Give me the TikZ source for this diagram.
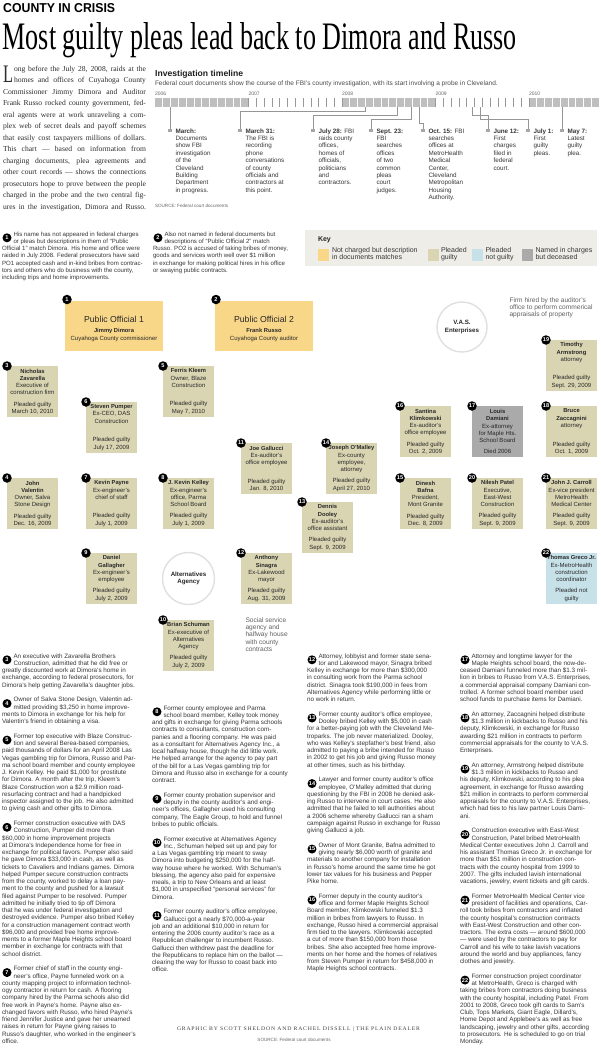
\documentclass[tikz,border=0pt]{standalone}
\usepackage{fontspec}
\setmainfont{Liberation Sans}
\setsansfont{Liberation Sans}
\newfontfamily\seriff{Liberation Serif}
\newfontfamily\credf[LetterSpace=14]{Liberation Serif}
\usetikzlibrary{calc}
\pgfdeclarelayer{bg}
\pgfsetlayers{bg,main}
\definecolor{poY}{RGB}{249,215,137}
\definecolor{pgB}{RGB}{217,213,178}
\definecolor{pngB}{RGB}{199,225,232}
\definecolor{decG}{RGB}{170,170,170}
\definecolor{keyBg}{RGB}{238,237,231}
\definecolor{txtC}{RGB}{40,40,40}
\definecolor{bodyC}{RGB}{55,55,55}
\definecolor{connC}{RGB}{115,115,115}
\definecolor{tlC}{RGB}{150,150,150}
\newcommand\pfont{\fontsize{6}{7.3}\selectfont}
\newcommand\nfont{\fontsize{5.8}{7.3}\selectfont\bfseries}
\newcommand\bfont{\fontsize{6.3}{7.25}\selectfont}
\newcommand\notefont{\fontsize{6.1}{7.3}\selectfont}
\newcommand\tfont{\fontsize{6.3}{7.4}\selectfont}
\newcommand\ind{\hspace*{11.5pt}}
\tikzset{
  pbox/.style={rectangle, minimum width=51pt, minimum height=51pt, inner sep=0pt, outer sep=0pt, text=txtC},
  numc/.style={circle, fill=black, text=white, inner sep=0pt, outer sep=0pt, minimum size=9.5pt, font=\fontsize{5.6}{6}\selectfont\bfseries},
  conline/.style={draw=connC, line width=0.6pt},
  agency/.style={circle, minimum size=52pt, inner sep=0pt, outer sep=0pt, fill=white, draw=black!12, line width=1.4pt, align=center, text=txtC, font=\fontsize{6.2}{7.4}\selectfont\bfseries},
  txtnode/.style={inner sep=0pt, outer sep=0pt, text=bodyC},
  tlsq/.style={rectangle, fill=black!35, minimum size=3.5pt, inner sep=0pt, outer sep=0pt},
  tlline/.style={draw=tlC, line width=0.5pt},
  annline/.style={draw=black!18, line width=0.9pt},
  anndash/.style={draw=black!35, line width=0.5pt, dash pattern=on 1pt off 1pt},
  swatch/.style={rectangle, minimum width=11pt, minimum height=12pt, inner sep=0pt},
  pobox/.style={rectangle, fill=poY, minimum width=98pt, minimum height=50pt, inner sep=0pt, outer sep=0pt},
}
\newcommand\person[7]{%
  \node[pbox, fill=#4] (#1) at ({#2+25.5},{#3+25.5}) {\parbox[c][44.5pt][s]{50pt}{\centering\pfont #6\par\vfill #7\par}};
  \node[numc] (#1num) at (#1.north west) {#5};
}
\newcommand\para[5]{%
  \node[txtnode, anchor=base west] (#1) at (#2,#3) {\parbox[t]{170pt}{\raggedright\bfont #5}};
  \node[numc, minimum size=9pt] (#1num) at ({#2+5},{#3+1.8}) {#4};
}
\newcommand\note[5]{%
  \node[txtnode, anchor=base west] (#1) at (#2,#3) {\parbox[t]{170pt}{\raggedright\notefont #5}};
  \node[numc, minimum size=9pt] (#1num) at ({#2+5},{#3+1.8}) {#4};
}
\begin{document}
\begin{tikzpicture}[x=1pt,y=-1pt]
\useasboundingbox (0,0) rectangle (600,1054);
\fill[white] (0,0) rectangle (600,1054);

% ---------- header
\node[anchor=base west, inner sep=0pt] (kicker) at (3,12.5) {\resizebox{112pt}{9pt}{\bfseries COUNTY IN CRISIS}};
\node[anchor=base west, inner sep=0pt] (title) at (2.5,50) {\resizebox{514pt}{27pt}{\seriff Most guilty pleas lead back to Dimora and Russo}};

% ---------- intro
\node[anchor=base west, inner sep=0pt, text=black!82] (dropL) at (3,83) {\resizebox{10pt}{16.5pt}{\seriff L}};
\node[txtnode, anchor=base west, text=black!82] (introA) at (14,71.5) {\parbox[t]{132pt}{\seriff\fontsize{7.6}{11.5}\selectfont
\makebox[132pt][s]{ong before the July 28, 2008, raids at the}\\
\makebox[132pt][s]{homes and offices of Cuyahoga County}}};
\node[txtnode, anchor=base west, text=black!82] (introB) at (3,94.5) {\parbox[t]{143pt}{\seriff\fontsize{7.6}{11.5}\selectfont
\makebox[143pt][s]{Commissioner Jimmy Dimora and Auditor}\\
\makebox[143pt][s]{Frank Russo rocked county government, fed-}\\
\makebox[143pt][s]{eral agents were at work unraveling a com-}\\
\makebox[143pt][s]{plex web of secret deals and payoff schemes}\\
\makebox[143pt][s]{that easily cost taxpayers millions of dollars.}\\
\makebox[143pt][s]{This chart — based on information from}\\
\makebox[143pt][s]{charging documents, plea agreements and}\\
\makebox[143pt][s]{other court records — shows the connections}\\
\makebox[143pt][s]{prosecutors hope to prove between the people}\\
\makebox[143pt][s]{charged in the probe and the two central fig-}\\
\makebox[143pt][s]{ures in the investigation, Dimora and Russo.}}};

% ---------- timeline
\node[anchor=base west, inner sep=0pt, text=black!88] (tlhead) at (155,76.5) {\fontsize{8.6}{9}\selectfont\bfseries Investigation timeline};
\node[txtnode, anchor=base west, text=black!70] (tlsub) at (155,85.5) {\fontsize{6.5}{6.5}\selectfont Federal court documents show the course of the FBI’s county investigation, with its start involving a probe in Cleveland.};
\node[txtnode, anchor=base west, text=black!60] (y06) at (155,95.5) {\fontsize{5}{5}\selectfont 2006};
\node[txtnode, anchor=base west, text=black!60] (y07) at (248.5,95.5) {\fontsize{5}{5}\selectfont 2007};
\node[txtnode, anchor=base west, text=black!60] (y08) at (342,95.5) {\fontsize{5}{5}\selectfont 2008};
\node[txtnode, anchor=base west, text=black!60] (y09) at (435.5,95.5) {\fontsize{5}{5}\selectfont 2009};
\node[txtnode, anchor=base west, text=black!60] (y10) at (529,95.5) {\fontsize{5}{5}\selectfont 2010};
\fill[black!25] (155,98.5) rectangle (248.5,107);
\fill[black!25] (342,98.5) rectangle (435.5,107);
\fill[black!25] (529,98.5) rectangle (599,107);
\foreach \k in {1,...,11} \draw[white, line width=0.7pt] ({155+7.79*\k},98.5) -- ({155+7.79*\k},107);
\foreach \k in {25,...,35} \draw[white, line width=0.7pt] ({155+7.79*\k},98.5) -- ({155+7.79*\k},107);
\foreach \k in {49,...,56} \draw[white, line width=0.7pt] ({155+7.79*\k},98.5) -- ({155+7.79*\k},107);
\foreach \k in {12,...,24} \draw[black!40, line width=0.5pt] ({155+7.79*\k},98.5) -- ({155+7.79*\k},107);
\foreach \k in {36,...,48} \draw[black!40, line width=0.5pt] ({155+7.79*\k},98.5) -- ({155+7.79*\k},107);

\coordinate (tb1) at (170,107);
\coordinate (tb2) at (365,107);
\coordinate (tb3) at (397,107);
\coordinate (tb4) at (411,107);
\coordinate (tb5) at (419,107);
\coordinate (tb6) at (472,107);
\coordinate (tb7) at (480,107);
\coordinate (tb8) at (562,107);
\node[tlsq] (sq1) at (170,130.5) {};
\node[tlsq] (sq2) at (240,130.5) {};
\node[tlsq] (sq3) at (313,130.5) {};
\node[tlsq] (sq4) at (371,130.5) {};
\node[tlsq] (sq5) at (423,130.5) {};
\node[tlsq] (sq6) at (488,130.5) {};
\node[tlsq] (sq7) at (528,130.5) {};
\node[tlsq] (sq8) at (562,130.5) {};
\draw[tlline] (tb1) -- (sq1.north);
\draw[tlline] (tb2) |- ([yshift=17.25pt]sq2.north) -- (sq2.north);
\draw[tlline] (tb3) |- ([yshift=13.75pt]sq3.north) -- (sq3.north);
\draw[tlline] (tb4) |- ([yshift=9.25pt]sq4.north) -- (sq4.north);
\draw[tlline] (tb5) |- ([yshift=5.75pt]sq5.north) -- (sq5.north);
\draw[tlline] (tb6) |- ([yshift=13.75pt]sq6.north) -- (sq6.north);
\draw[tlline] (tb7) |- ([yshift=9.25pt]sq7.north) -- (sq7.north);
\draw[tlline] (tb8) -- (sq8.north);

\node[txtnode, anchor=base west, text=black!78] (ev1) at (175.5,133) {\parbox[t]{60pt}{\raggedright\tfont\textbf{March:}\\Documents\\show FBI\\investigation\\of the\\Cleveland\\Building\\Department\\in progress.}};
\node[txtnode, anchor=base west, text=black!78] (ev2) at (245.5,133) {\parbox[t]{60pt}{\raggedright\tfont\textbf{March 31:}\\The FBI is\\recording\\phone\\conversations\\of county\\officials and\\contractors at\\this point.}};
\node[txtnode, anchor=base west, text=black!78] (ev3) at (318.5,133) {\parbox[t]{60pt}{\raggedright\tfont\textbf{July 28:} FBI\\raids county\\offices,\\homes of\\officials,\\politicians\\and\\contractors.}};
\node[txtnode, anchor=base west, text=black!78] (ev4) at (376.5,133) {\parbox[t]{60pt}{\raggedright\tfont\textbf{Sept. 23:}\\FBI\\searches\\offices\\of two\\common\\pleas\\court\\judges.}};
\node[txtnode, anchor=base west, text=black!78] (ev5) at (428.5,133) {\parbox[t]{60pt}{\raggedright\tfont\textbf{Oct. 15:} FBI\\searches\\offices at\\MetroHealth\\Medical\\Center,\\Cleveland\\Metropolitan\\Housing\\Authority.}};
\node[txtnode, anchor=base west, text=black!78] (ev6) at (493.5,133) {\parbox[t]{60pt}{\raggedright\tfont\textbf{June 12:}\\First\\charges\\filed in\\federal\\court.}};
\node[txtnode, anchor=base west, text=black!78] (ev7) at (533.5,133) {\parbox[t]{60pt}{\raggedright\tfont\textbf{July 1:}\\First\\guilty\\pleas.}};
\node[txtnode, anchor=base west, text=black!78] (ev8) at (567.5,133) {\parbox[t]{60pt}{\raggedright\tfont\textbf{May 7:}\\Latest\\guilty\\plea.}};
\node[txtnode, anchor=base west, text=black!60] (tlsrc) at (155,207.5) {\fontsize{4.6}{5}\selectfont SOURCE: Federal court documents};

% ---------- notes 1 and 2
\note{note1}{2}{236}{1}{\ind His name has not appeared in federal charges\\\ind or pleas but descriptions in them of “Public\\Official 1” match Dimora. His home and office were\\raided in July 2008. Federal prosecutors have said\\PO1 accepted cash and in-kind bribes from contrac-\\tors and others who do business with the county,\\including trips and home improvements.}
\note{note2}{153}{236}{2}{\ind Also not named in federal documents but\\\ind descriptions of “Public Official 2” match\\Russo. PO2 is accused of taking bribes of money,\\goods and services worth well over \$1 million\\in exchange for making political hires in his office\\or swaying public contracts.}

% ---------- key
\node[rectangle, fill=keyBg, minimum width=292pt, minimum height=36pt, inner sep=0pt] (key) at (451,248) {};
\node[txtnode, anchor=base west, text=black!85] (keyt) at (318,241) {\fontsize{7}{8}\selectfont\bfseries Key};
\node[swatch, fill=poY] (sw1) at (323.5,254.5) {};
\node[txtnode, anchor=base west] (sw1t) at (332,252.5) {\parbox[t]{100pt}{\raggedright\fontsize{7}{7.2}\selectfont Not charged but description\\in documents matches}};
\node[swatch, fill=pgB] (sw2) at (433,254.5) {};
\node[txtnode, anchor=base west] (sw2t) at (441,252.5) {\parbox[t]{40pt}{\raggedright\fontsize{7}{7.2}\selectfont Pleaded\\guilty}};
\node[swatch, fill=pngB] (sw3) at (477.5,254.5) {};
\node[txtnode, anchor=base west] (sw3t) at (485.5,252.5) {\parbox[t]{40pt}{\raggedright\fontsize{7}{7.2}\selectfont Pleaded\\not guilty}};
\node[swatch, fill=decG] (sw4) at (527.5,254.5) {};
\node[txtnode, anchor=base west] (sw4t) at (535.5,252.5) {\parbox[t]{70pt}{\raggedright\fontsize{7}{7.2}\selectfont Named in charges\\but deceased}};

% ---------- network: main nodes
\node[pobox] (po1) at (114,326) {};
\node[txtnode, anchor=base, text=txtC] (po1a) at (114,322) {\fontsize{8.7}{9}\selectfont Public Official 1};
\node[txtnode, anchor=base, text=txtC] (po1b) at (114,332) {\nfont Jimmy Dimora};
\node[txtnode, anchor=base, text=txtC] (po1c) at (114,340) {\pfont Cuyahoga County commissioner};
\node[numc] (po1num) at ([xshift=2pt,yshift=1.5pt]po1.north west) {1};
\node[pobox] (po2) at (264,326) {};
\node[txtnode, anchor=base, text=txtC] (po2a) at (264,322) {\fontsize{8.7}{9}\selectfont Public Official 2};
\node[txtnode, anchor=base, text=txtC] (po2b) at (264,332) {\nfont Frank Russo};
\node[txtnode, anchor=base, text=txtC] (po2c) at (264,340) {\pfont Cuyahoga County auditor};
\node[numc] (po2num) at ([xshift=1pt,yshift=1.5pt]po2.north west) {2};

\node[agency, minimum size=50pt] (vas) at (462,327) {V.A.S.\\Enterprises};
\node[agency] (alt) at (188.5,578.5) {Alternatives\\Agency};

\person{n3}{7}{366}{pgB}{3}{{\nfont Nicholas\\Zavarella}\\Executive of\\construction firm}{Pleaded guilty\\March 10, 2010}
\person{n4}{7}{478}{pgB}{4}{{\nfont John\\Valentin}\\Owner, Salva\\Stone Design}{Pleaded guilty\\Dec. 16, 2009}
\person{n5}{163}{366}{pgB}{5}{{\nfont Ferris Kleem}\\Owner, Blaze\\Construction}{Pleaded guilty\\May 7, 2010}
\person{n6}{86}{402}{pgB}{6}{{\nfont Steven Pumper}\\Ex-CEO, DAS\\Construction}{Pleaded guilty\\July 17, 2009}
\person{n7}{86}{478}{pgB}{7}{{\nfont Kevin Payne}\\Ex-engineer’s\\chief of staff}{Pleaded guilty\\July 1, 2009}
\person{n8}{163}{478}{pgB}{8}{{\nfont J. Kevin Kelley}\\Ex-engineer’s\\office, Parma\\School Board}{Pleaded guilty\\July 1, 2009}
\person{n9}{86}{553}{pgB}{9}{{\nfont Daniel\\Gallagher}\\Ex-engineer’s\\employee}{Pleaded guilty\\July 2, 2009}
\person{n10}{163}{620}{pgB}{10}{{\nfont Brian Schuman}\\Ex-executive of\\Alternatives\\Agency}{Pleaded guilty\\July 2, 2009}
\person{n11}{241}{443}{pgB}{11}{{\nfont Joe Gallucci}\\Ex-auditor’s\\office employee}{Pleaded guilty\\Jan. 8, 2010}
\person{n12}{241}{553}{pgB}{12}{{\nfont Anthony\\Sinagra}\\Ex-Lakewood\\mayor}{Pleaded guilty\\Aug. 31, 2009}
\person{n13}{302}{502}{pgB}{13}{{\nfont Dennis\\Dooley}\\Ex-auditor’s\\office assistant}{Pleaded guilty\\Sept. 9, 2009}
\person{n14}{326}{443}{pgB}{14}{{\nfont Joseph O’Malley}\\Ex-county\\employee,\\attorney}{Pleaded guilty\\April 27, 2010}
\person{n15}{400}{478}{pgB}{15}{{\nfont Dinesh\\Bafna}\\President,\\Mont Granite}{Pleaded guilty\\Dec. 8, 2009}
\person{n16}{400}{406}{pgB}{16}{{\nfont Santina\\Klimkowski}\\Ex-auditor’s\\office employee}{Pleaded guilty\\Oct. 2, 2009}
\person{n17}{472}{406}{decG}{17}{{\nfont Louis\\Damiani}\\Ex-attorney\\for Maple Hts.\\School Board}{Died 2006}
\person{n18}{546}{406}{pgB}{18}{{\nfont Bruce\\Zaccagnini}\\attorney}{Pleaded guilty\\Oct. 1, 2009}
\person{n19}{546}{340}{pgB}{19}{{\nfont Timothy\\Armstrong}\\attorney}{Pleaded guilty\\Sept. 29, 2009}
\person{n20}{472}{478}{pgB}{20}{{\nfont Nilesh Patel}\\Executive,\\East-West\\Construction}{Pleaded guilty\\Sept. 9, 2009}
\person{n21}{546}{478}{pgB}{21}{{\nfont John J. Carroll}\\Ex-vice president\\MetroHealth\\Medical Center}{Pleaded guilty\\Sept. 9, 2009}
\person{n22}{546}{553}{pngB}{22}{{\nfont Thomas Greco Jr.}\\Ex-MetroHealth\\construction\\coordinator}{Pleaded not\\guilty}

% annotations
\node[txtnode, anchor=base west, text=black!62] (firmnote) at (509.5,302) {\parbox[t]{100pt}{\raggedright\fontsize{6.6}{7.4}\selectfont Firm hired by the auditor’s\\office to perform commerical\\appraisals of property}};
\node[txtnode, anchor=base west, text=black!62] (socnote) at (245.5,622) {\parbox[t]{60pt}{\raggedright\fontsize{6.6}{7.4}\selectfont Social service\\agency and\\halfway house\\with county\\contracts}};
\coordinate (fdt) at (505.5,295);
\coordinate (fdb) at (505.5,320);
\coordinate (firmd) at (505.5,309);
\coordinate (sdt) at (242,614);
\coordinate (sdb) at (242,656);
\coordinate (socd) at (242,617);

\begin{pgfonlayer}{bg}
\draw[anndash] (fdt) -- (fdb);
\draw[anndash] (sdt) -- (sdb);
\draw[annline] (vas.25) -- (firmd);
\draw[annline] (alt.-40) -- (socd);
% PO1
\draw[conline] ([xshift=-35pt]po1.south) -- ([yshift=-3pt]n3.north east);
\draw[conline] ([xshift=-16pt]po1.south) -- ([xshift=9.5pt]n4.north);
\draw[conline] (n6.north |- po1.south) -- (n6.north);
\draw[conline] ([xshift=6pt]po1.south) -- ([xshift=-13.5pt]n8.north);
\draw[conline] ([xshift=31pt]po1.south) -- (n5.north west);
% PO2
\draw[conline] ([xshift=-27pt]po2.south) -- ([yshift=-4pt]n5.north east);
\draw[conline] ([xshift=-11pt]po2.south) -- ([xshift=11.5pt]n8.north);
\draw[conline] (n11.north |- po2.south) -- (n11.north);
\draw[conline] ([xshift=14pt]po2.south) -- ([xshift=-10.5pt]n13.north);
\draw[conline] ([xshift=25pt]po2.south) -- (n14.north west);
\draw[conline] ([yshift=-1pt]po2.east) -- (vas.west);
\draw[conline] ([yshift=-8pt]po2.east) -- (n16.north west);
\draw[conline] ([yshift=-14pt]po2.east) -- (n15.north west);
% others
\draw[conline] (n5.south) -- (n8.north);
\draw[conline] (n6.south east) -- (n8.north west);
\draw[conline] (n6.east) -- (150.8,427.5) .. controls (150.8,424.5) and (155.4,424.5) .. (155.4,427.5)
  -- (186.2,427.5) .. controls (186.2,424.5) and (190.8,424.5) .. (190.8,427.5)
  -- (218.8,427.5) .. controls (218.8,424.5) and (223.4,424.5) .. (223.4,427.5)
  -- (264.2,427.5) .. controls (264.2,424.5) and (268.8,424.5) .. (268.8,427.5)
  -- (295.5,427.5) .. controls (295.5,424.5) and (300.1,424.5) .. (300.1,427.5)
  -- (317.5,427.5) .. controls (317.5,424.5) and (322.1,424.5) .. (322.1,427.5)
  -- (365.9,427.5) .. controls (365.9,424.5) and (370.5,424.5) .. (370.5,427.5)
  -- (n16.west |- n6.east);
\draw[conline] (n7.east) -- (n8.west);
\draw[conline] (n7.south) -- (n9.north);
\draw[conline] (n7.south east) -- (alt.135);
\draw[conline] (n8.south) -- (alt.north);
\draw[conline] (n8.south west) -- (151.57,539.54) .. controls (149.53,537.34) and (146.15,540.46) .. (148.19,542.66) -- (n9.north east);
\draw[conline] ([yshift=11.5pt]n8.east) -- ([yshift=-13.5pt]n11.west);
\draw[conline] ([yshift=-3.5pt]n8.east) -- ([yshift=2.5pt]n13.west);
\draw[conline] (n8.south east) -- (n12.north west);
\draw[conline] (n9.east) -- (alt.west);
\draw[conline] (alt.east) -- (n12.west);
\draw[conline] (alt.south) -- (n10.north);
\draw[conline] (n9.south east) -- (n10.north west);
\draw[conline] (n12.south west) -- (n10.north east);
\draw[conline] (n11.east) -- (306,468.5) .. controls (306,465.5) and (310.6,465.5) .. (310.6,468.5) -- (n14.west);
\draw[conline] (vas.250) -- ([xshift=11pt]n16.north);
\draw[conline] (vas.288) -- ([xshift=-9pt]n17.north);
\draw[conline] (vas.317) -- (n18.north west);
\draw[conline] (vas.340) -- ([yshift=12.5pt]n19.west);
\draw[conline] (n19.south) -- (n18.north);
\draw[conline] (n16.east) -- (n17.west);
\draw[conline] (n17.east) -- (n18.west);
\draw[conline] (n20.east) -- (n21.west);
\draw[conline] (n20.south east) -- (n22.north west);
\draw[conline] (n21.south) -- (n22.north);
\end{pgfonlayer}

% ---------- bottom text, column 1
\para{p3}{2}{658}{3}{\ind An executive with Zavarella Brothers\\\ind Construction, admitted that he did free or\\greatly discounted work at Dimora’s home in\\exchange, according to federal prosecutors, for\\Dimora’s help getting Zavarella’s daughter jobs.}
\para{p4}{2}{701.75}{4}{\ind Owner of Salva Stone Design, Valentin ad-\\\ind mitted providing \$3,250 in home improve-\\ments to Dimora in exchange for his help for\\Valentin’s friend in obtaining a visa.}
\para{p5}{2}{738.25}{5}{\ind Former top executive with Blaze Construc-\\\ind tion and several Berea-based companies,\\paid thousands of dollars for an April 2008 Las\\Vegas gambling trip for Dimora, Russo and Par-\\ma school board member and county employee\\J. Kevin Kelley. He paid \$1,000 for prostitute\\for Dimora. A month after the trip, Kleem’s\\Blaze Construction won a \$2.9 million road-\\resurfacing contract and had a handpicked\\inspector assigned to the job. He also admitted\\to giving cash and other gifts to Dimora.}
\para{p6}{2}{825.5}{6}{\ind Former construction executive with DAS\\\ind Construction, Pumper did more than\\\$60,000 in home improvement projects\\at Dimora’s Independence home for free in\\exchange for political favors. Pumper also said\\he gave Dimora \$33,000 in cash, as well as\\tickets to Cavaliers and Indians games. Dimora\\helped Pumper secure construction contracts\\from the county, worked to delay a loan pay-\\ment to the county and pushed for a lawsuit\\filed against Pumper to be resolved. Pumper\\admitted he initially tried to tip off Dimora\\that he was under federal investigation and\\destroyed evidence. Pumper also bribed Kelley\\for a construction management contract worth\\\$96,000 and provided free home improve-\\ments to a former Maple Heights school board\\member in exchange for contracts with that\\school district.}
\para{p7}{2}{970.75}{7}{\ind Former chief of staff in the county engi-\\\ind neer’s office, Payne funneled work on a\\county mapping project to information technol-\\ogy contractor in return for cash. A flooring\\company hired by the Parma schools also did\\free work in Payne’s home. Payne also ex-\\changed favors with Russo, who hired Payne’s\\friend Jennifer Justice and gave her unearned\\raises in return for Payne giving raises to\\Russo’s daughter, who worked in the engineer’s\\office.}

% column 2
\para{p8}{152}{710}{8}{\ind Former county employee and Parma\\\ind school board member, Kelley took money\\and gifts in exchange for giving Parma schools\\contracts to consultants, construction com-\\panies and a flooring company. He was paid\\as a consultant for Alternatives Agency Inc., a\\local halfway house, though he did little work.\\He helped arrange for the agency to pay part\\of the bill for a Las Vegas gambling trip for\\Dimora and Russo also in exchange for a county\\contract.}
\para{p9}{152}{797.25}{9}{\ind Former county probation supervisor and\\\ind deputy in the county auditor’s and engi-\\neer’s offices, Gallagher used his consulting\\company, The Eagle Group, to hold and funnel\\bribes to public officials.}
\para{p10}{152}{841}{10}{\ind Former executive at Alternatives Agency\\\ind Inc., Schuman helped set up and pay for\\a Las Vegas gambling trip meant to sway\\Dimora into budgeting \$250,000 for the half-\\way house where he worked. With Schuman’s\\blessing, the agency also paid for expensive\\meals, a trip to New Orleans and at least\\\$1,000 in unspecified “personal services” for\\Dimora.}
\para{p11}{152}{913.75}{11}{\ind Former county auditor’s office employee,\\\ind Gallucci got a nearly \$70,000-a-year\\job and an additional \$10,000 in return for\\entering the 2006 county auditor’s race as a\\Republican challenger to incumbent Russo.\\Gallucci then withdrew past the deadline for\\the Republicans to replace him on the ballot —\\clearing the way for Russo to coast back into\\office.}

% column 3
\para{p12}{307}{658}{12}{\ind Attorney, lobbyist and former state sena-\\\ind tor and Lakewood mayor, Sinagra bribed\\Kelley in exchange for more than \$300,000\\in consulting work from the Parma school\\district. Sinagra took \$190,000 in fees from\\Alternatives Agency while performing little or\\no work in return.}
\para{p13}{307}{716.25}{13}{\ind Former county auditor’s office employee,\\\ind Dooley bribed Kelley with \$5,000 in cash\\for a better-paying job with the Cleveland Me-\\troparks. The job never materialized. Dooley,\\who was Kelley’s stepfather’s best friend, also\\admitted to paying a bribe intended for Russo\\in 2002 to get his job and giving Russo money\\at other times, such as his birthday.}
\para{p14}{307}{781.75}{14}{\ind Lawyer and former county auditor’s office\\\ind employee, O’Malley admitted that during\\questioning by the FBI in 2008 he denied ask-\\ing Russo to intervene in court cases. He also\\admitted that he failed to tell authorities about\\a 2006 scheme whereby Gallucci ran a sham\\campaign against Russo in exchange for Russo\\giving Gallucci a job.}
\para{p15}{307}{847.25}{15}{\ind Owner of Mont Granite, Bafna admitted to\\\ind giving nearly \$6,000 worth of granite and\\materials to another company for installation\\in Russo’s home around the same time he got\\lower tax values for his business and Pepper\\Pike home.}
\para{p16}{307}{898.25}{16}{\ind Former deputy in the county auditor’s\\\ind office and former Maple Heights School\\Board member, Klimkowski funneled \$1.3\\million in bribes from lawyers to Russo. In\\exchange, Russo hired a commercial appraisal\\firm tied to the lawyers. Klimkowski accepted\\a cut of more than \$150,000 from those\\bribes. She also accepted free home improve-\\ments on her home and the homes of relatives\\from Steven Pumper in return for \$458,000 in\\Maple Heights school contracts.}

% column 4
\para{p17}{460}{658}{17}{\ind Attorney and longtime lawyer for the\\\ind Maple Heights school board, the now-de-\\ceased Damiani funneled more than \$1.3 mil-\\lion in bribes to Russo from V.A.S. Enterprises,\\a commercial appraisal company Damiani con-\\trolled. A former school board member used\\school funds to purchase items for Damiani.}
\para{p18}{460}{716.25}{18}{\ind An attorney, Zaccagnini helped distribute\\\ind \$1.3 million in kickbacks to Russo and his\\deputy, Klimkowski, in exchange for Russo\\awarding \$21 million in contracts to perform\\commercial appraisals for the county to V.A.S.\\Enterprises.}
\para{p19}{460}{767.25}{19}{\ind An attorney, Armstrong helped distribute\\\ind \$1.3 million in kickbacks to Russo and\\his deputy, Klimkowski, according to his plea\\agreement, in exchange for Russo awarding\\\$21 million in contracts to perform commercial\\appraisals for the county to V.A.S. Enterprises,\\which had ties to his law partner Louis Dami-\\ani.}
\para{p20}{460}{832.75}{20}{\ind Construction executive with East-West\\\ind Construction, Patel bribed MetroHealth\\Medical Center executives John J. Carroll and\\his assistant Thomas Greco Jr. in exchange for\\more than \$51 million in construction con-\\tracts with the county hospital from 1999 to\\2007. The gifts included lavish international\\vacations, jewelry, event tickets and gift cards.}
\para{p21}{460}{898.25}{21}{\ind Former MetroHealth Medical Center vice\\\ind president of facilities and operations, Car-\\roll took bribes from contractors and inflated\\the county hospital’s construction contracts\\with East-West Construction and other con-\\tractors. The extra costs — around \$600,000\\— were used by the contractors to pay for\\Carroll and his wife to take lavish vacations\\around the world and buy appliances, fancy\\clothes and jewelry.}
\para{p22}{460}{978.25}{22}{\ind Former construction project coordinator\\\ind at MetroHealth, Greco is charged with\\taking bribes from contractors doing business\\with the county hospital, including Patel. From\\2001 to 2008, Greco took gift cards to Sam’s\\Club, Tops Markets, Giant Eagle, Dillard’s,\\Home Depot and Applebee’s as well as free\\landscaping, jewelry and other gifts, according\\to prosecutors. He is scheduled to go on trial\\Monday.}

% ---------- credits
\node[anchor=base, inner sep=0pt, text=black!75] (credit) at (298.5,1030) {\resizebox{243pt}{3.7pt}{\credf GRAPHIC BY SCOTT SHELDON AND RACHEL DISSELL | THE PLAIN DEALER}};
\node[anchor=base, inner sep=0pt, text=black!60] (src2) at (294,1041.5) {\fontsize{4.6}{5}\selectfont SOURCE: Federal court documents};
\end{tikzpicture}
\end{document}
